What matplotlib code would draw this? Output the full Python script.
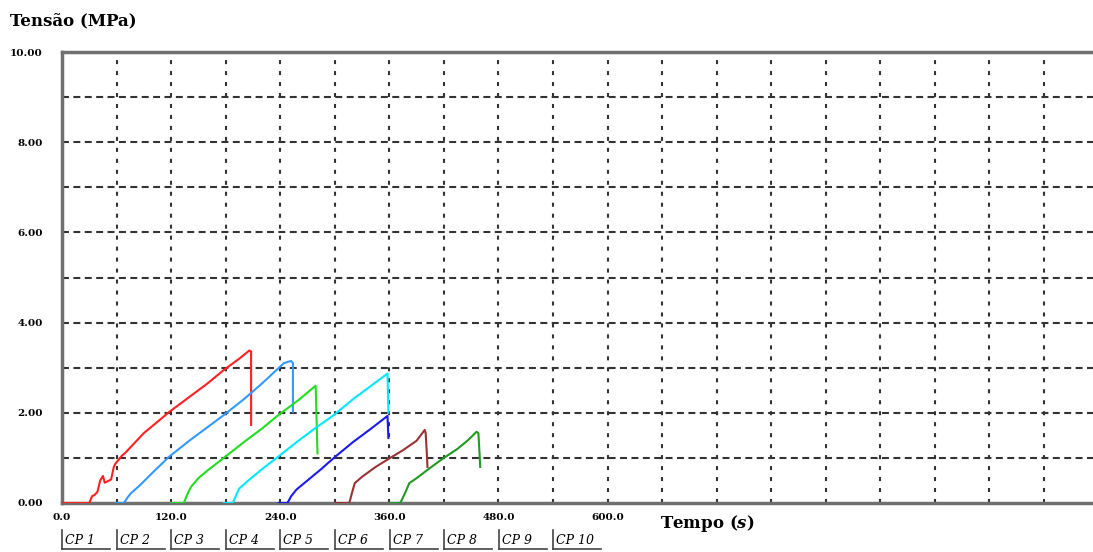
import matplotlib.pyplot as plt
import matplotlib.lines as mlines
import numpy as np

plt.rcParams['font.family'] = ['DejaVu Serif', 'Liberation Serif']
plt.rcParams['lines.scale_dashes'] = False
plt.rcParams['mathtext.fontset'] = 'custom'
plt.rcParams['mathtext.it'] = 'DejaVu Serif:italic:bold'
plt.rcParams['mathtext.rm'] = 'DejaVu Serif:bold'

# ensaios (tempo em s, tensao em MPa)
t1 = [0, 30, 33, 36, 39, 42, 45, 47, 50, 54, 57, 59, 62, 66, 70, 76, 90, 105, 118, 140, 160, 178, 195, 206, 208, 208]
s1 = [0, 0, 0.15, 0.18, 0.25, 0.5, 0.6, 0.45, 0.48, 0.52, 0.8, 0.88, 0.95, 1.05, 1.12, 1.25, 1.55, 1.8, 2.02, 2.35, 2.65, 2.95, 3.2, 3.38, 3.36, 1.73]

t2 = [59, 68, 72, 76, 85, 100, 118, 140, 160, 178, 200, 220, 244, 252, 254, 254]
s2 = [0, 0, 0.12, 0.22, 0.38, 0.68, 1.03, 1.38, 1.68, 1.95, 2.3, 2.65, 3.1, 3.15, 3.1, 2.02]

t3 = [120, 134, 138, 142, 150, 160, 178, 200, 220, 238, 260, 279, 281]
s3 = [0, 0, 0.2, 0.36, 0.55, 0.72, 1.0, 1.35, 1.65, 1.95, 2.28, 2.6, 1.1]

t4 = [178, 188, 191, 195, 205, 220, 238, 260, 280, 299, 320, 340, 358, 359]
s4 = [0, 0, 0.15, 0.32, 0.5, 0.75, 1.03, 1.38, 1.68, 1.95, 2.3, 2.6, 2.87, 2.0]

t5 = [238, 248, 252, 258, 270, 285, 299, 320, 340, 358, 359]
s5 = [0, 0, 0.15, 0.3, 0.5, 0.75, 1.0, 1.35, 1.65, 1.93, 1.44]

t6 = [301, 316, 318, 320, 322, 330, 345, 361, 375, 390, 399, 400, 401, 402]
s6 = [0, 0, 0.15, 0.3, 0.44, 0.58, 0.8, 1.0, 1.17, 1.38, 1.62, 1.55, 1.2, 0.8]

t7 = [361, 372, 375, 378, 382, 390, 405, 420, 435, 447, 456, 458, 459, 460]
s7 = [0, 0, 0.12, 0.25, 0.44, 0.55, 0.78, 1.0, 1.2, 1.4, 1.58, 1.55, 1.2, 0.8]

series = [(t1, s1), (t2, s2), (t3, s3), (t4, s4), (t5, s5), (t6, s6), (t7, s7)]
cores = ['#ff2020', '#3399ff', '#22dd22', '#00e8ff', '#1a1aee', '#993333', '#229922']
nomes = ['CP 1', 'CP 2', 'CP 3', 'CP 4', 'CP 5', 'CP 6', 'CP 7', 'CP 8', 'CP 9', 'CP 10']

fig = plt.figure(figsize=(10.93, 5.52), dpi=100)
ax = fig.add_axes([62 / 1093, 1 - 503 / 552, 1 - 62 / 1093, (503 - 52) / 552])

ax.set_xlim(0, 1134)
ax.set_ylim(0, 10)

ax.set_xticks(np.arange(0, 601, 120))
ax.set_xticklabels(['%.1f' % v for v in np.arange(0, 601, 120)])
ax.set_yticks(np.arange(0, 11, 2))
ax.set_yticklabels(['%.2f' % v for v in np.arange(0, 11, 2)])

# grade
for x in np.arange(60, 1134, 60):
    ax.axvline(x, color='#333333', lw=1.5, dashes=(2.9, 5), zorder=1)
for y in np.arange(1, 10, 1):
    ax.axhline(y, color='#333333', lw=1.5, dashes=(5, 3.2), zorder=1)

ax.tick_params(which='both', length=0)
ax.tick_params(axis='y', pad=14)
ax.tick_params(axis='x', pad=7)
for lab in ax.get_xticklabels() + ax.get_yticklabels():
    lab.set_fontsize(7.5)
    lab.set_fontweight('bold')

for k in ['left', 'top', 'bottom']:
    ax.spines[k].set_color('#707070')
    ax.spines[k].set_linewidth(2.5)
ax.spines['right'].set_visible(False)

for (t, s), c in zip(series, cores):
    ax.plot(t, s, color=c, lw=1.5, zorder=3)

fig.text(10 / 1093, 1 - 22 / 552, 'Tensão (MPa)', fontsize=12, fontweight='bold', va='center', ha='left')
fig.text(660 / 1093, 1 - 524 / 552, r'Tempo ($\mathit{s}$)', fontsize=12, fontweight='bold', va='center', ha='left')

# rotulos dos ensaios
for i, nome in enumerate(nomes):
    x0 = 62 + i * 54.6
    fig.text((x0 + 3) / 1093, 1 - 540 / 552, nome, fontsize=9, style='italic', va='center', ha='left')
    fig.add_artist(mlines.Line2D([x0 / 1093, x0 / 1093], [1 - 530 / 552, 1 - 549 / 552],
                                 color='#444444', lw=1.2, transform=fig.transFigure))
    fig.add_artist(mlines.Line2D([x0 / 1093, (x0 + 48) / 1093], [1 - 549 / 552, 1 - 549 / 552],
                                 color='#444444', lw=1.2, transform=fig.transFigure))

fig.savefig('out.png', dpi=100)
